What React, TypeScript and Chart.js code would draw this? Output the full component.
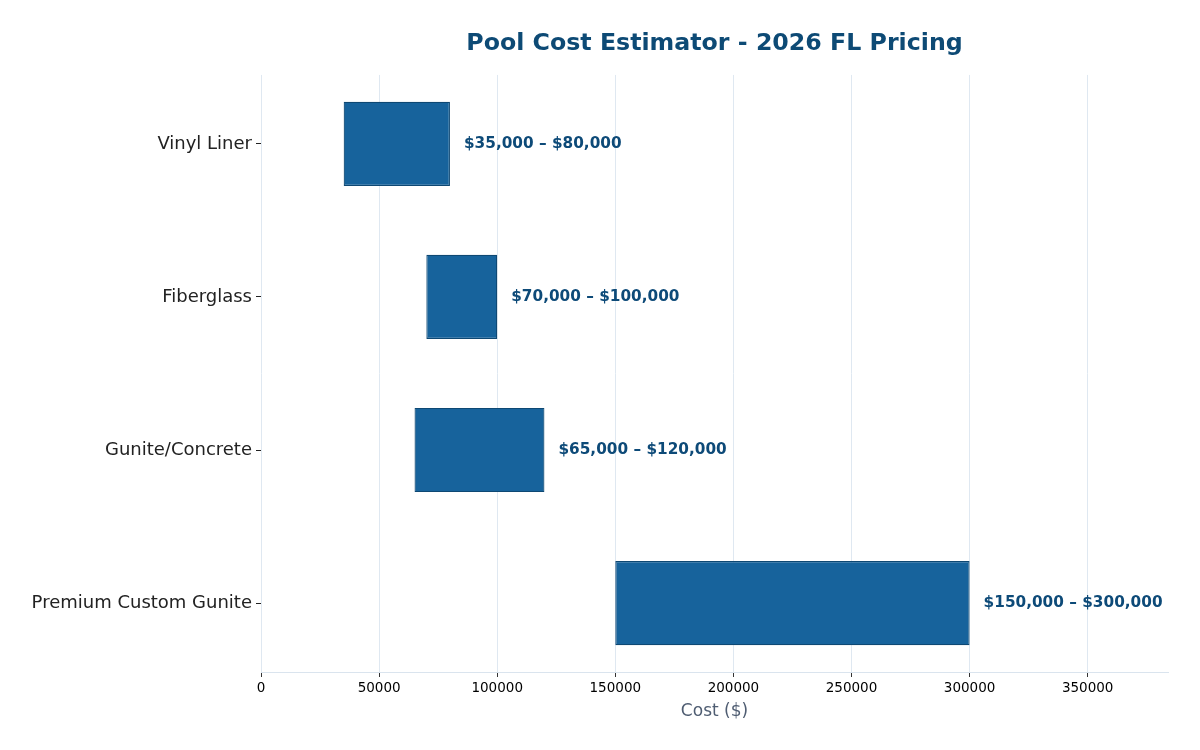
import React, { useEffect, useRef } from "react";
import { Chart, registerables } from "chart.js";

Chart.register(...registerables);

const categories = ["Vinyl Liner", "Fiberglass", "Gunite/Concrete", "Premium Custom Gunite"];
const lowCosts = [35000, 70000, 65000, 150000];
const highCosts = [80000, 100000, 120000, 300000];
const xTicks = [0, 50000, 100000, 150000, 200000, 250000, 300000, 350000];
const xMax = 384000;

const fmt = (v: number) => "$" + v.toLocaleString("en-US");

const labelPlugin = {
  id: "rangeLabels",
  afterDatasetsDraw(chart: any) {
    const ctx = chart.ctx;
    const meta = chart.getDatasetMeta(0);
    ctx.save();
    ctx.font = "bold 15.3px 'DejaVu Sans'";
    ctx.fillStyle = "#0d4a78";
    ctx.textAlign = "left";
    ctx.textBaseline = "middle";
    meta.data.forEach((bar: any, i: number) => {
      const xEnd = chart.scales.x.getPixelForValue(highCosts[i]);
      ctx.fillText(`${fmt(lowCosts[i])} – ${fmt(highCosts[i])}`, xEnd + 14, bar.y);
    });
    ctx.restore();
  },
};

export default function App() {
  const ref = useRef<HTMLCanvasElement>(null);
  useEffect(() => {
    if (!ref.current) return;
    const chart = new Chart(ref.current, {
      type: "bar",
      data: {
        datasets: [
          {
            data: categories.map((_, i) => ({ y: i, x: [lowCosts[i], highCosts[i]] })) as any,
            backgroundColor: "#17639c",
            borderColor: "#0e4873",
            borderWidth: 1.2,
            borderSkipped: false,
            categoryPercentage: 1,
            barPercentage: 0.55,
          },
        ],
      },
      plugins: [labelPlugin],
      options: {
        indexAxis: "y",
        animation: false,
        responsive: false,
        maintainAspectRatio: false,
        layout: { padding: { left: 0, right: 32, top: 0, bottom: 0 } },
        plugins: {
          legend: { display: false },
          tooltip: { enabled: false },
          title: {
            display: true,
            text: "Pool Cost Estimator - 2026 FL Pricing",
            fullSize: false,
            color: "#0d4a75",
            font: { family: "'DejaVu Sans'", size: 23.7, weight: "bold" },
            padding: { top: 30, bottom: 16.5 },
          },
        },
        scales: {
          x: {
            type: "linear",
            min: 0,
            max: xMax,
            afterBuildTicks: (s: any) => {
              s.ticks = xTicks.map((v) => ({ value: v }));
            },
            ticks: {
              color: "#000",
              font: { family: "'DejaVu Sans'", size: 13.5 },
              padding: 3,
              maxRotation: 0,
              autoSkip: false,
              callback: (v: any) => String(v),
            },
            grid: { color: "#dfe8f1", tickColor: "#333", tickLength: 5, lineWidth: 1 },
            border: { display: true, color: "#dae4ee" },
            title: {
              display: true,
              text: "Cost ($)",
              color: "#4f5d72",
              font: { family: "'DejaVu Sans'", size: 17 },
              padding: { top: 4, bottom: 28 },
            },
            afterFit: (s: any) => {
              s.height = 78;
            },
          },
          y: {
            type: "linear",
            min: -0.45,
            max: 3.45,
            reverse: true,
            offset: false,
            afterBuildTicks: (s: any) => {
              s.ticks = categories.map((_, i) => ({ value: i }));
            },
            ticks: {
              color: "#222",
              font: { family: "'DejaVu Sans'", size: 18 },
              padding: 4,
              autoSkip: false,
              callback: (v: any) => categories[v] ?? "",
            },
            grid: {
              display: true,
              offset: false,
              drawOnChartArea: false,
              drawTicks: true,
              tickLength: 5,
              tickColor: "#222",
            },
            border: { display: false },
            afterFit: (s: any) => {
              s.width = 261;
            },
          },
        },
      },
    });
    return () => chart.destroy();
  }, []);
  return (
    <div style={{ position: "fixed", left: 0, top: 0, width: 1200, height: 750, background: "#fff" }}>
      <canvas ref={ref} width={1200} height={750} style={{ width: 1200, height: 750 }} />
    </div>
  );
}
